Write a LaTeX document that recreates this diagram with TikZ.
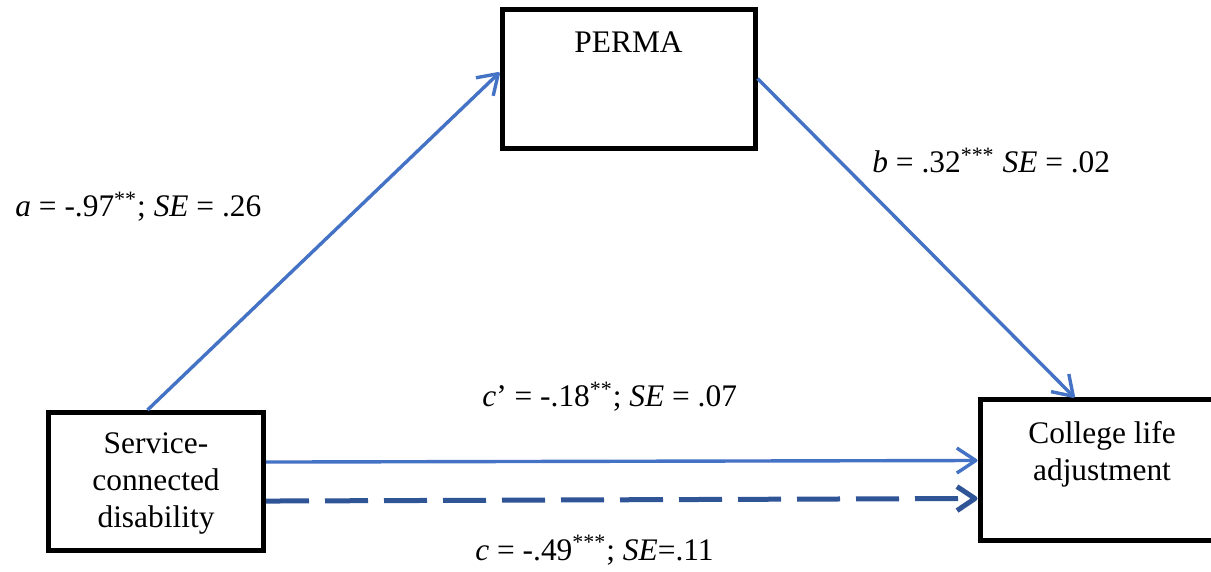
\documentclass[tikz,border=0pt]{standalone}
\usepackage{fontspec}
\setmainfont{Liberation Serif}
\usetikzlibrary{arrows.meta}
\definecolor{lineblue}{HTML}{4472C4}
\definecolor{darkblue}{HTML}{2F5597}
\begin{document}
\begin{tikzpicture}[x=0.5pt,y=-0.5pt,
  varbox/.style={draw=black,line width=2.5pt,rectangle,inner sep=0pt},
  vartext/.style={font=\fontsize{15.7}{18.5}\selectfont,align=center,inner sep=0pt},
  coef/.style={font=\fontsize{15.7}{18.5}\selectfont,inner sep=0pt,anchor=base west},
  patharrow/.style={draw=lineblue,line width=1.7pt,-{Straight Barb[length=9.5pt,width=12.5pt,line join=round]}},
  totalarrow/.style={draw=darkblue,line width=2.5pt,dash pattern=on 21.5pt off 8pt,-{Straight Barb[length=9pt,width=12pt,line join=round]}}]
\path[use as bounding box,clip] (0,0) rectangle (1211,572);
% boxes
\node[varbox,minimum width=126.5pt,minimum height=69.5pt] (perma) at (628.5,79.5) {};
\node[varbox,minimum width=107.5pt,minimum height=68.75pt] (svc) at (156,481.25) {};
\node[varbox,minimum width=122pt,minimum height=70pt] (col) at (1102,470) {};
% box texts
\node[vartext,anchor=base] (permatext) at (628.5,53) {PERMA};
\node[vartext] (svctext) at (156,483) {Service-\\connected\\disability};
\node[vartext] (coltext) at (1102,454) {College life\\adjustment};
% connectors
\draw[patharrow] ([xshift=50.75pt]svc.north west) -- ([yshift=-32.5pt]perma.north west);
\draw[patharrow] ([yshift=-35.5pt]perma.north east) -- ([xshift=48.5pt]col.north west);
\draw[patharrow] ([yshift=9.6pt]svc.east) -- ([yshift=4.75pt]col.west);
\draw[totalarrow] ([yshift=-9.9pt]svc.east) -- ([yshift=-14.25pt]col.west);
% coefficients
\node[coef] (alab) at (15,217) {\textit{a} = -.97\textsuperscript{**}; \textit{SE} = .26};
\node[coef] (blab) at (872,173) {\textit{b} = .32\textsuperscript{***} \textit{SE} = .02};
\node[coef] (cplab) at (482,407) {\textit{c}’ = -.18\textsuperscript{**}; \textit{SE} = .07};
\node[coef] (clab) at (475,560) {\textit{c} = -.49\textsuperscript{***}; \textit{SE}=.11};
\end{tikzpicture}
\end{document}
